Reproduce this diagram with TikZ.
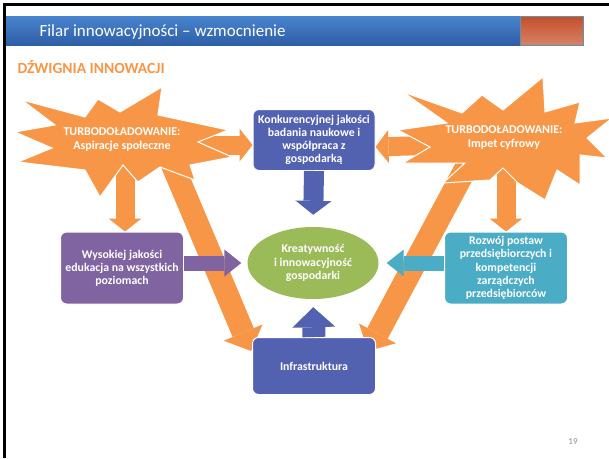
\documentclass[tikz,border=0pt]{standalone}
\usepackage{fontspec}
\setmainfont{Carlito}
\usetikzlibrary{arrows.meta,shapes.geometric,backgrounds}
\definecolor{boxblue}{RGB}{83,98,176}
\definecolor{boxviolet}{RGB}{128,100,162}
\definecolor{boxteal}{RGB}{75,172,198}
\definecolor{ellgreen}{RGB}{155,187,89}
\definecolor{burst}{RGB}{247,150,70}
\definecolor{bartop}{RGB}{72,132,206}
\definecolor{barbot}{RGB}{46,94,166}
\definecolor{tabtop}{RGB}{196,78,42}
\definecolor{tabbot}{RGB}{216,130,104}
\definecolor{tabrim}{RGB}{95,150,165}
\definecolor{pagegray}{RGB}{140,140,140}
\tikzset{
	pillar/.style={rectangle,rounded corners=6pt,draw=white,line width=1pt,text=white,font=\bfseries\fontsize{11.8}{13.2}\selectfont,align=center,inner sep=0pt},
	burstlabel/.style={text=white,font=\bfseries\fontsize{12}{14}\selectfont,align=center},
	burstfill/.style={fill=burst,draw=white,line width=1pt},
	push/.style={draw=burst,line width=19pt,-{Triangle[width=33pt,length=13pt,line width=0pt]}},
	lever/.style={draw=burst,line width=23pt,-{Triangle[width=42pt,length=20pt,line width=0pt]}},
	feed/.style n args={4}{draw=#1,line width=#2,-{Triangle[width=#3,length=#4,line width=0pt]}}
}
\begin{document}
\begin{tikzpicture}[x=1pt,y=-1pt,>=latex]
	\useasboundingbox (0,0) rectangle (609,458);
	% frame and title bar
	\draw[line width=2.7pt] (4.7,458) -- (4.7,4.7) -- (609,4.7);
	\shade[top color=bartop,bottom color=barbot] (6,16) rectangle (520,45);
	\shade[top color=tabtop,bottom color=tabbot,draw=tabrim,line width=0.8pt] (520,16) rectangle (583,45);
	\node[anchor=west,text=white,font=\fontsize{17}{19}\selectfont] (title) at (36,32) {Filar innowacyjności – wzmocnienie};
	\node[anchor=west,text=burst,font=\bfseries\fontsize{15.5}{17}\selectfont] (subtitle) at (14,67) {DŹWIGNIA INNOWACJI};
	\node[text=pagegray,font=\fontsize{9}{10}\selectfont] (pageno) at (573,442) {19};
	% pillars
	\node[pillar,fill=boxblue,minimum width=122pt,minimum height=61pt] (research) at (314,140) {Konkurencyjnej jakości\\badania naukowe i\\współpraca z\\gospodarką};
	\node[pillar,fill=boxviolet,minimum width=123pt,minimum height=72pt] (education) at (122,268) {Wysokiej jakości\\edukacja na wszystkich\\poziomach};
	\node[pillar,fill=boxteal,minimum width=123pt,minimum height=72pt] (business) at (506,268) {Rozwój postaw\\przedsiębiorczych i\\kompetencji\\zarządczych\\przedsiębiorców};
	\node[pillar,fill=boxblue,minimum width=123pt,minimum height=57pt] (infra) at (314,366) {Infrastruktura};
	% center
	\node[ellipse,fill=ellgreen,text=white,font=\bfseries\fontsize{11.8}{13.2}\selectfont,align=center,minimum width=131pt,minimum height=72pt,inner sep=0pt] (core) at (313,263) {Kreatywność\\i innowacyjność\\gospodarki};
	% turbo
	\node[burstlabel] (aspire) at (122,140) {TURBODOŁADOWANIE:\\Aspiracje społeczne};
	\node[burstlabel] (digital) at (504,138) {TURBODOŁADOWANIE:\\Impet cyfrowy};
	\begin{scope}[on background layer]
		\draw[lever] ([xshift=40pt]aspire.center) -- ([shift={(-1,14)}]infra.north west);
		\draw[lever] ([xshift=-22pt]digital.center) -- ([shift={(-8,14)}]infra.north east);
		\draw[push] ([yshift=-5pt]aspire.east) -- ([yshift=-5pt]research.west);
		\draw[push] ([yshift=-7pt]digital.west) -- ([yshift=-7pt]research.east);
		\draw[push] ([xshift=3pt]aspire.south) -- ([xshift=3pt]education.north);
		\draw[push] (business.north |- digital.south) -- (business.north);
		\begin{scope}[shift={(aspire.center)}]
			\filldraw[burstfill] (-107,-8) -- (-67,-15) -- (-100,-40) -- (-37,-23) -- (-24,-41) -- (-2,-28) -- (40,-53) -- (36,-25) -- (106,-10) -- (76,2) -- (110,17) -- (68,25) -- (73,40) -- (38,27) -- (16,42) -- (1,25) -- (-22,57) -- (-37,30) -- (-104,22) -- (-70,8) -- cycle;
		\end{scope}
		\begin{scope}[shift={(digital.center)}]
			\filldraw[burstfill] (-106,-8) -- (-57,-15) -- (-101,-46) -- (-42,-25) -- (-22,-43) -- (-1,-28) -- (39,-61) -- (41,-26) -- (76,-36) -- (71,-15) -- (108,-20) -- (83,0) -- (103,20) -- (76,17) -- (76,47) -- (53,32) -- (41,62) -- (14,45) -- (-1,30) -- (-14,42) -- (-61,45) -- (-39,25) -- (-101,25) -- (-74,9) -- cycle;
		\end{scope}
	\end{scope}
	% feeding arrows
	\draw[feed={boxblue}{20pt}{36pt}{14pt},shorten >=12pt] (research.south) -- (core.north);
	\draw[feed={boxblue}{23pt}{43pt}{20pt},shorten >=8pt] (infra.north) -- (core.south);
	\draw[feed={boxviolet}{15pt}{27pt}{17pt},shorten >=6pt] (education.east |- core.west) -- (core.west);
	\draw[feed={boxteal}{15pt}{27pt}{17pt},shorten >=8pt] (business.west |- core.east) -- (core.east);
\end{tikzpicture}
\end{document}
